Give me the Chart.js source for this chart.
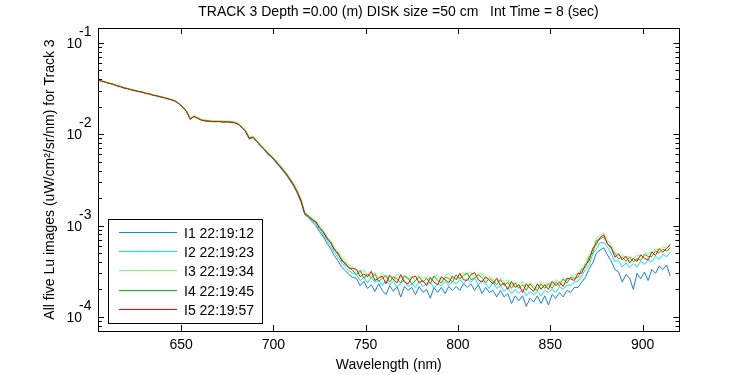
<!DOCTYPE html>
<html>
<head>
<meta charset="utf-8">
<script src="https://cdn.jsdelivr.net/npm/chart.js@4.4.1/dist/chart.umd.min.js"></script>
<style>
  html, body { margin: 0; padding: 0; background: #fff; }
  #wrap { width: 750px; height: 375px; }
</style>
</head>
<body>
<div id="wrap"><canvas id="chart-lu-track3"></canvas></div>
<script>
// values are in units of 1e-4 uW/cm^2/sr/nm
var UNIT = 1e-4;

var wavelengths = [
    605, 607, 609, 611, 613, 615, 617, 619, 621, 623,
    625, 627, 629, 631, 633, 635, 637, 639, 641, 643,
    645, 647, 649, 651, 653, 655, 657, 659, 661, 663,
    665, 667, 669, 671, 673, 675, 677, 679, 681, 683,
    685, 687, 689, 691, 693, 695, 697, 699, 701, 703,
    705, 707, 709, 711, 713, 715, 717, 719, 721, 723,
    725, 727, 729, 731, 733, 735, 737, 739, 741, 743,
    745, 747, 749, 751, 753, 755, 757, 759, 761, 763,
    765, 767, 769, 771, 773, 775, 777, 779, 781, 783,
    785, 787, 789, 791, 793, 795, 797, 799, 801, 803,
    805, 807, 809, 811, 813, 815, 817, 819, 821, 823,
    825, 827, 829, 831, 833, 835, 837, 839, 841, 843,
    845, 847, 849, 851, 853, 855, 857, 859, 861, 863,
    865, 867, 869, 871, 873, 875, 877, 879, 881, 883,
    885, 887, 889, 891, 893, 895, 897, 899, 901, 903,
    905, 907, 909, 911, 913, 915
];

var luI1 = [
    393, 382, 372, 361, 353, 341, 333, 322, 316, 307,
    301, 294, 289, 281, 276, 267, 263, 256, 251, 244,
    238, 230, 215, 198, 177, 146, 157, 150, 143, 140,
    139, 138, 137, 138, 136, 137, 136, 134, 129, 118,
    106, 89, 92, 83, 74, 68, 60, 56, 50, 45,
    40, 36, 31, 27, 22.5, 18, 13.2, 12.2, 11.0, 10.0,
    8.6, 7.6, 6.4, 5.6, 4.7, 4.1, 3.5, 3.2, 2.9, 2.7,
    2.65, 2.2, 2.45, 2.05, 2.25, 1.9, 2.3, 1.95, 1.75, 2.2,
    1.9, 2.15, 1.65, 2.15, 1.95, 2.1, 1.75, 2.15, 1.85, 2.0,
    1.6, 2.1, 1.85, 2.1, 1.8, 2.15, 1.95, 2.15, 1.95, 2.3,
    2.1, 2.3, 1.95, 2.25, 1.8, 2.1, 1.85, 1.95, 1.65, 1.95,
    1.65, 1.8, 1.4, 1.7, 1.5, 1.7, 1.3, 1.6, 1.45, 1.7,
    1.4, 1.7, 1.35, 1.75, 1.6, 1.85, 1.65, 1.95, 1.85, 2.1,
    2.1, 2.4, 2.7, 3.35, 3.9, 5.0, 5.4, 5.7, 4.75, 4.1,
    3.3, 3.1, 2.4, 2.9, 2.65, 2.0, 3.0, 2.6, 3.1, 2.5,
    3.3, 3.0, 3.6, 3.3, 3.7, 2.8
];

var luI2 = [
    394, 383, 373, 362, 355, 342, 334, 323, 317, 308,
    302, 295, 290, 282, 277, 268, 264, 257, 252, 245,
    239, 231, 216, 199, 177, 147, 158, 151, 144, 141,
    140, 139, 138, 139, 137, 138, 137, 135, 130, 119,
    107, 90, 93, 84, 75, 69, 61, 57, 51, 46,
    41, 37, 32, 27.5, 23, 18.5, 13.6, 12.6, 11.4, 10.5,
    9.0, 8.0, 6.9, 6.0, 5.1, 4.5, 3.9, 3.5, 3.2, 3.0,
    2.9, 2.5, 2.7, 2.35, 2.7, 2.4, 2.5, 2.2, 2.5, 2.25,
    2.45, 2.1, 2.35, 2.5, 2.15, 2.3, 2.1, 2.45, 2.15, 2.3,
    2.4, 2.05, 2.3, 2.2, 2.45, 2.2, 2.45, 2.3, 2.55, 2.3,
    2.6, 2.4, 2.65, 2.25, 2.5, 2.3, 2.05, 2.4, 2.05, 2.2,
    1.9, 2.1, 1.8, 2.0, 1.8, 2.0, 1.7, 1.9, 1.75, 1.9,
    1.7, 1.95, 1.85, 2.0, 1.85, 2.15, 2.0, 2.25, 2.2, 2.4,
    2.45, 2.8, 3.3, 3.7, 4.85, 5.55, 6.5, 6.5, 5.8, 4.9,
    4.05, 4.1, 3.5, 3.9, 3.45, 3.85, 3.5, 4.05, 3.75, 4.2,
    4.0, 4.6, 4.25, 4.85, 4.55, 5.1
];

var luI3 = [
    398, 386, 376, 366, 357, 346, 337, 327, 320, 311,
    305, 298, 292, 284, 279, 271, 266, 260, 254, 248,
    242, 233, 218, 201, 181, 150, 160, 153, 146, 144,
    142, 141, 141, 140, 140, 139, 139, 137, 132, 122,
    110, 93, 95, 86, 78, 71, 64, 58, 53, 48,
    43, 38, 33.5, 29, 24, 19.5, 14, 13, 12.2, 11.3,
    10, 8.9, 7.6, 6.9, 5.8, 5.3, 4.5, 4.1, 3.7, 3.5,
    3.3, 3.0, 3.3, 2.8, 2.95, 3.05, 2.65, 3.05, 2.65, 2.8,
    2.5, 2.95, 2.7, 2.85, 2.55, 2.8, 2.45, 2.9, 2.65, 2.75,
    2.5, 2.8, 2.85, 2.45, 2.8, 3.0, 2.6, 2.85, 2.65, 3.05,
    2.95, 3.1, 2.65, 2.95, 3.0, 2.55, 2.8, 2.6, 2.4, 2.65,
    2.4, 2.55, 2.2, 2.4, 2.25, 2.45, 2.1, 2.35, 2.2, 2.05,
    2.4, 2.25, 2.35, 2.25, 2.55, 2.4, 2.65, 2.5, 2.8, 2.9,
    3.0, 3.4, 3.85, 4.7, 5.55, 7.15, 8.0, 8.3, 6.9, 6.0,
    5.25, 4.7, 4.75, 4.5, 4.6, 4.3, 4.8, 4.6, 4.9, 5.0,
    5.0, 5.65, 5.35, 5.9, 5.65, 6.35
];

var luI4 = [
    393, 382, 371, 361, 352, 341, 332, 322, 315, 307,
    300, 294, 288, 280, 275, 267, 262, 256, 250, 244,
    237, 230, 215, 198, 178, 148, 156, 150, 142, 141,
    139, 138, 137, 138, 136, 136, 136, 134, 129, 119,
    108, 91, 92, 84, 76, 68, 62, 56, 52, 46,
    42, 36, 32, 28, 23.5, 19, 13.6, 12.5, 11.8, 10.8,
    9.6, 8.4, 7.4, 6.4, 5.6, 4.8, 4.3, 3.7, 3.5, 3.2,
    2.9, 3.25, 2.65, 2.95, 2.7, 2.95, 2.45, 2.65, 2.85, 2.4,
    2.75, 2.6, 2.35, 2.8, 2.65, 2.3, 2.5, 2.75, 2.4, 2.65,
    2.3, 2.8, 2.5, 2.35, 2.7, 2.65, 2.4, 2.9, 2.6, 2.85,
    3.0, 2.55, 2.65, 2.9, 2.7, 2.35, 2.65, 2.45, 2.25, 2.55,
    2.2, 2.4, 2.05, 2.35, 2.05, 2.25, 1.95, 2.3, 2.05, 1.95,
    2.3, 2.05, 2.3, 2.05, 2.4, 2.2, 2.6, 2.35, 2.7, 2.65,
    2.7, 3.3, 3.5, 4.5, 5.0, 6.8, 7.15, 7.5, 6.3, 5.6,
    4.95, 4.3, 4.55, 4.05, 4.5, 4.0, 4.35, 4.15, 4.8, 4.6,
    4.55, 5.3, 5.0, 5.5, 5.25, 5.7
];

var luI5 = [
    392, 381, 372, 360, 354, 340, 333, 321, 316, 306,
    301, 293, 289, 279, 276, 266, 263, 255, 251, 243,
    238, 229, 214, 197, 176, 145, 157, 149, 143, 140,
    139, 137, 138, 137, 136, 137, 135, 133, 128, 118,
    107, 89, 93, 83, 75, 69, 61, 57, 51, 46,
    41, 37, 32, 27.5, 23, 18.5, 13.4, 12.7, 11.6, 11.0,
    9.4, 8.6, 7.2, 6.6, 5.4, 5.0, 4.1, 3.9, 3.4, 3.4,
    3.3, 2.75, 2.95, 2.75, 3.15, 2.5, 2.65, 2.8, 2.3, 2.85,
    2.6, 2.35, 2.9, 2.4, 2.3, 2.7, 2.8, 2.35, 2.5, 2.2,
    2.7, 2.4, 2.25, 2.75, 2.55, 2.35, 2.8, 2.55, 3.0, 2.55,
    2.5, 2.9, 3.05, 2.55, 2.4, 2.75, 2.5, 2.3, 2.65, 2.2,
    2.35, 2.0, 2.45, 2.1, 2.25, 1.85, 2.3, 2.05, 1.9, 2.3,
    2.0, 2.25, 2.0, 2.45, 2.2, 2.4, 2.15, 2.65, 2.6, 2.5,
    3.0, 3.0, 3.7, 4.1, 5.6, 6.3, 7.4, 7.9, 6.3, 5.8,
    4.5, 4.9, 4.2, 4.6, 3.9, 4.35, 4.05, 4.8, 4.35, 4.2,
    5.15, 4.7, 5.6, 5.1, 5.65, 6.1
];

var seriesLabels = ['I1 22:19:12', 'I2 22:19:23', 'I3 22:19:34', 'I4 22:19:45', 'I5 22:19:57'];
var seriesColors = ['#1482e8', '#00e6ff', '#80ff80', '#00c800', '#ff0000'];
var seriesValues = [luI1, luI2, luI3, luI4, luI5];

var chartTitle = 'TRACK 3 Depth =0.00 (m) DISK size =50 cm   Int Time = 8 (sec)';
var xTitle = 'Wavelength (nm)';
var yTitle = 'All five Lu images (uW/cm\u00b2/sr/nm) for Track 3';
var yMin = 7.4e-5, yMax = 0.1456;

var FONT_FAMILY = '"Liberation Sans", Arial, Helvetica, sans-serif';
var fontMain = { family: FONT_FAMILY, size: 14 };

function toPoints(values) {
    return values.map(function (v, i) { return { x: wavelengths[i], y: v * UNIT }; });
}

// matlab style box: inward ticks on all four sides, 10^n labels, legend in lower left
var matlabFrame = {
    id: 'matlabFrame',
    afterDraw: function (chart) {
        var ctx = chart.ctx, a = chart.chartArea;
        var x = chart.scales.x, y = chart.scales.y;
        ctx.save();
        ctx.strokeStyle = '#000';
        ctx.lineWidth = 1;
        ctx.beginPath();
        x.ticks.forEach(function (t) {
            var px = Math.round(x.getPixelForValue(t.value)) + 0.5;
            ctx.moveTo(px, a.bottom); ctx.lineTo(px, a.bottom - 6);
            ctx.moveTo(px, a.top); ctx.lineTo(px, a.top + 6);
        });
        var e0 = Math.floor(Math.log10(yMin)), e1 = Math.ceil(Math.log10(yMax));
        for (var e = e0; e <= e1; e++) {
            for (var k = 1; k <= 9; k++) {
                var v = k * Math.pow(10, e);
                if (v < yMin || v > yMax) continue;
                var py = Math.round(y.getPixelForValue(v)) + 0.5;
                var len = k === 1 ? 6 : 4;
                ctx.moveTo(a.left, py); ctx.lineTo(a.left + len, py);
                ctx.moveTo(a.right, py); ctx.lineTo(a.right - len, py);
            }
        }
        ctx.stroke();
        ctx.strokeRect(Math.round(a.left) + 0.5, Math.round(a.top) + 0.5,
            Math.round(a.right) - Math.round(a.left) - 1, Math.round(a.bottom) - Math.round(a.top));

        // decade labels
        ctx.fillStyle = '#000';
        ctx.font = '14px ' + FONT_FAMILY;
        ctx.textBaseline = 'alphabetic';
        for (var d = e0; d <= e1; d++) {
            var dv = Math.pow(10, d);
            if (dv < yMin || dv > yMax) continue;
            var ty = Math.round(y.getPixelForValue(dv));
            ctx.textAlign = 'right';
            ctx.fillText('10', a.left - 16, ty + 5);
            ctx.textAlign = 'left';
            ctx.fillText(String(d), a.left - 19, ty - 7);
        }

        // legend
        var lx = Math.round(a.left) + 10, lw = 154;
        var ly = Math.round(a.bottom) - 112, lh = 104;
        ctx.fillStyle = '#fff';
        ctx.fillRect(lx, ly, lw, lh);
        ctx.strokeRect(lx + 0.5, ly + 0.5, lw, lh);
        ctx.textAlign = 'left';
        chart.data.datasets.forEach(function (ds, i) {
            var ry = Math.round(ly + 13 + i * 19.2) + 0.5;
            ctx.strokeStyle = ds.borderColor;
            ctx.beginPath();
            ctx.moveTo(lx + 11, ry); ctx.lineTo(lx + 69, ry);
            ctx.stroke();
            ctx.fillStyle = '#000';
            ctx.fillText(ds.label, lx + 76, ry + 5);
        });
        ctx.restore();
    }
};

var ctx = document.getElementById('chart-lu-track3');
if (ctx) {
    var datasets = seriesValues.map(function (vals, i) {
        return {
            label: seriesLabels[i],
            data: toPoints(vals),
            borderColor: seriesColors[i],
            backgroundColor: seriesColors[i],
            borderWidth: 1,
            pointRadius: 0,
            tension: 0,
            fill: false,
            order: seriesValues.length - i
        };
    });

    new Chart(ctx, {
        type: 'line',
        data: { datasets: datasets },
        options: {
            responsive: true,
            maintainAspectRatio: false,
            animation: false,
            events: [],
            layout: { padding: { left: 47, right: 0, top: 0, bottom: 0 } },
            plugins: {
                legend: { display: false },
                tooltip: { enabled: false },
                title: {
                    display: true,
                    text: chartTitle,
                    color: '#000',
                    font: { family: FONT_FAMILY, size: 14, weight: 'normal' },
                    padding: { top: 3.6, bottom: 7.6 }
                }
            },
            scales: {
                x: {
                    type: 'linear',
                    min: 605,
                    max: 920,
                    afterFit: function (s) { s.height = 44; },
                    grid: { display: false, drawTicks: false },
                    border: { display: false },
                    ticks: {
                        stepSize: 50,
                        includeBounds: false,
                        maxRotation: 0,
                        color: '#000',
                        font: fontMain,
                        padding: 5.5
                    },
                    title: {
                        display: true,
                        text: xTitle,
                        color: '#000',
                        font: fontMain,
                        padding: { top: 0, bottom: 1 }
                    }
                },
                y: {
                    type: 'logarithmic',
                    min: yMin,
                    max: yMax,
                    afterFit: function (s) { s.width = 51; },
                    grid: { display: false, drawTicks: false },
                    border: { display: false },
                    ticks: { display: false },
                    title: {
                        display: true,
                        text: yTitle,
                        color: '#000',
                        font: fontMain,
                        padding: { top: -5, bottom: 0 }
                    }
                },
                y2: {
                    type: 'logarithmic',
                    position: 'right',
                    min: yMin,
                    max: yMax,
                    afterFit: function (s) { s.width = 70.5; },
                    grid: { display: false, drawTicks: false },
                    border: { display: false },
                    ticks: { display: false }
                }
            }
        },
        plugins: [matlabFrame]
    });
}
</script>
</body>
</html>
